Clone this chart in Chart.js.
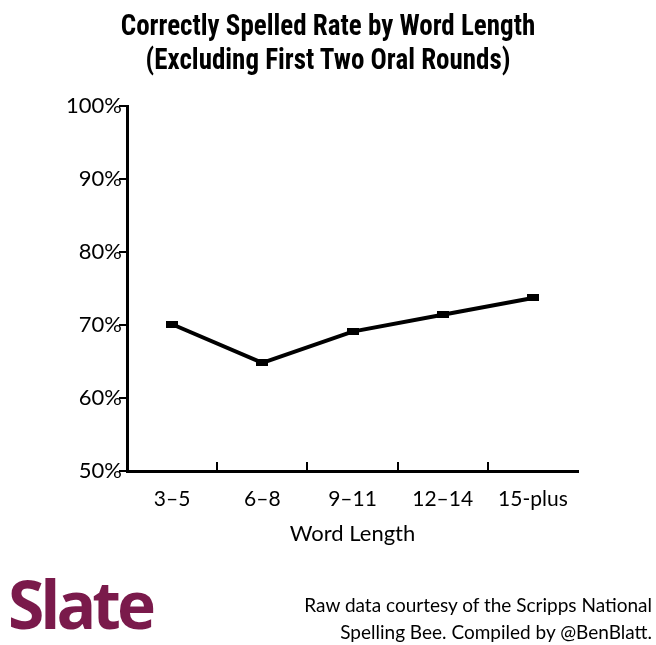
<!DOCTYPE html>
<html><head><meta charset="utf-8">
<script src="https://cdn.jsdelivr.net/npm/chart.js@4"></script>
<style>
body{margin:0;width:656px;height:645px;background:#fff;position:relative;overflow:hidden;font-family:Lato,sans-serif}
#c{position:absolute;left:0;top:0}
.t{position:absolute;left:0;width:656px;text-align:center;font-family:"Liberation Sans Narrow","Roboto Condensed",sans-serif;font-weight:bold;font-size:30px;color:#000;transform:scaleX(0.9)}
#logo{position:absolute;left:8px;top:558px;font-family:"Open Sans",Lato,sans-serif;font-weight:700;font-size:66px;color:#7a1a4b;letter-spacing:-4px}
#src{position:absolute;right:4px;top:591px;text-align:right;font-size:19px;line-height:27px;color:#000}
</style></head><body>
<canvas id="c" width="656" height="645"></canvas>
<div class="t" style="top:7px">Correctly Spelled Rate by Word Length</div>
<div class="t" style="top:41px">(Excluding First Two Oral Rounds)</div>
<div id="logo">Slate</div>
<div id="src">Raw data courtesy of the Scripps National<br>Spelling Bee. Compiled by @BenBlatt.</div>
<script>
const categories=["3–5","6–8","9–11","12–14","15-plus"];
const rates=[70.1,64.8,69.1,71.4,73.7];
const yTicks=[50,60,70,80,90,100];

const mk=document.createElement('canvas');mk.width=12;mk.height=7;
const mc=mk.getContext('2d');mc.fillStyle='#000';mc.fillRect(0,0,12,7);

const upTicks={id:'upTicks',afterDraw(ch){const x=ch.scales.x,c=ch.ctx;c.save();c.strokeStyle='#000';c.lineWidth=2;
for(let i=0;i<categories.length-1;i++){const px=Math.round((x.getPixelForValue(i)+x.getPixelForValue(i+1))/2);c.beginPath();c.moveTo(px,x.top);c.lineTo(px,x.top-9);c.stroke();}
c.restore();}};

new Chart(document.getElementById('c'),{type:'line',
data:{labels:categories,datasets:[{data:rates,borderColor:'#000',borderWidth:4,pointStyle:mk,tension:0}]},
options:{responsive:false,animation:false,events:[],
layout:{padding:{top:106,right:78,bottom:94,left:0}},
plugins:{legend:{display:false},tooltip:{enabled:false}},
scales:{
x:{offset:true,border:{color:'#000',width:3},grid:{display:false},
 ticks:{color:'#000',font:{family:'Lato',size:21},padding:8},
 title:{display:true,text:'Word Length',color:'#000',font:{family:'Lato',size:22},padding:{top:4}},
 afterFit(s){s.height=80;}},
y:{min:50,max:100,border:{color:'#000',width:3},
 grid:{drawOnChartArea:false,tickLength:8,color:'#000',lineWidth:2},
 afterBuildTicks(s){s.ticks=yTicks.map(v=>({value:v}));},
 ticks:{color:'#000',font:{family:'Lato',size:22},padding:-3,callback:v=>v+'%'},
 afterFit(s){s.width=127;}}
}},plugins:[upTicks]});
</script></body></html>
